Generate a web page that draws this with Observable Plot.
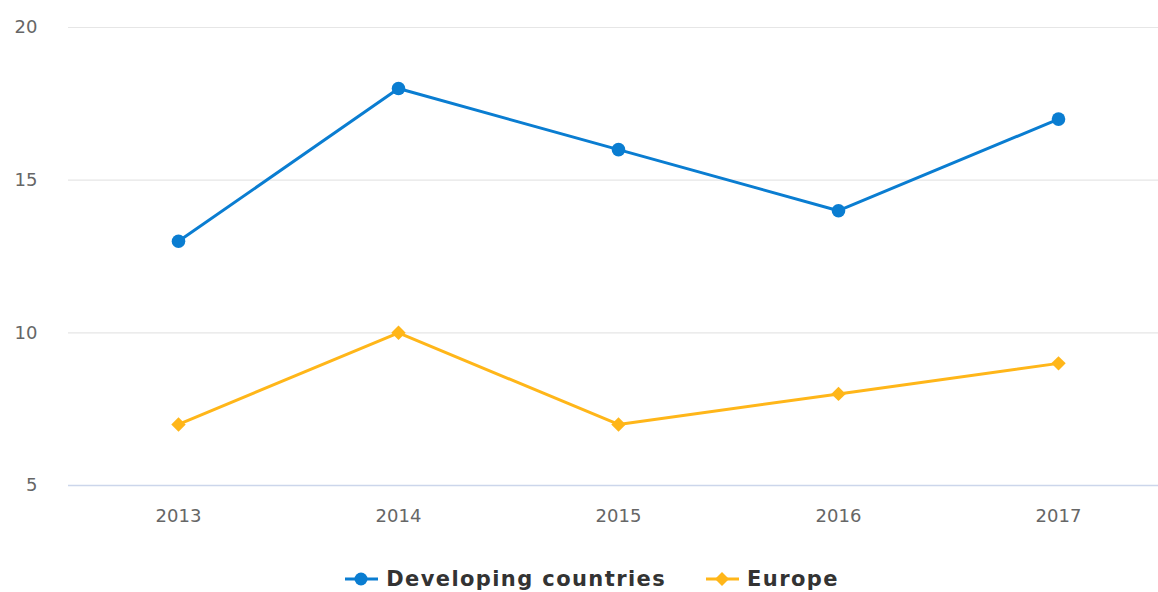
<!DOCTYPE html>
<html>
<head>
<meta charset="utf-8">
<script src="https://cdn.jsdelivr.net/npm/d3@7"></script>
<script src="https://cdn.jsdelivr.net/npm/@observablehq/plot@0.6"></script>
<style>
  html, body { margin: 0; padding: 0; background: #fff; }
  #chart { width: 1158px; height: 592px; overflow: hidden; font-family: "DejaVu Sans", sans-serif; }
  .legend { display: flex; justify-content: center; align-items: center; height: 47px; margin-top: 10px; font-family: "DejaVu Sans", sans-serif; font-weight: bold; font-size: 21px; color: #333; padding-left: 26px; }
  .legend .item { display: flex; align-items: center; margin: 0 20px; }
  .legend svg { margin-right: 8px; }
</style>
</head>
<body>
<div id="chart"></div>
<script>
const years = ["2013", "2014", "2015", "2016", "2017"];
const developing = [13, 18, 16, 14, 17];
const europe = [7, 10, 7, 8, 9];
const yTicks = [5, 10, 15, 20];
const seriesNames = ["Developing countries", "Europe"];
const seriesColors = ["#0a7dd1", "#ffb619"];

const data = [
  ...years.map((y, i) => ({year: y, value: developing[i], series: seriesNames[0]})),
  ...years.map((y, i) => ({year: y, value: europe[i], series: seriesNames[1]}))
];
const devData = data.filter(d => d.series === seriesNames[0]);
const eurData = data.filter(d => d.series === seriesNames[1]);

const chart = Plot.plot({
  width: 1158,
  height: 545,
  marginLeft: 68,
  marginRight: -10,
  marginTop: 27,
  marginBottom: 60,
  style: {fontFamily: "DejaVu Sans, sans-serif", fontSize: "18px", color: "#666", background: "#fff"},
  x: {type: "point", domain: years, padding: 0.5, label: null},
  y: {domain: [5, 20], label: null},
  marks: [
    Plot.ruleY(yTicks.filter(t => t > 5), {stroke: "#e6e6e6", strokeWidth: 1.2, strokeOpacity: 1}),
    Plot.ruleY([5], {stroke: "#ccd6eb", strokeWidth: 1.5, strokeOpacity: 1}),
    Plot.axisY({ticks: yTicks, tickSize: 0, tickPadding: 31, fill: "#666", style: {letterSpacing: "2px"}}),
    Plot.axisX({tickSize: 0, tickPadding: 24, fill: "#666", style: {letterSpacing: "2.5px"}}),
    Plot.line(devData, {x: "year", y: "value", stroke: seriesColors[0], strokeWidth: 3}),
    Plot.line(eurData, {x: "year", y: "value", stroke: seriesColors[1], strokeWidth: 3}),
    Plot.dot(devData, {x: "year", y: "value", fill: seriesColors[0], r: 6.8, symbol: "circle"}),
    Plot.dot(eurData, {x: "year", y: "value", fill: seriesColors[1], r: 6.5, symbol: "diamond2"})
  ]
});

const container = document.getElementById("chart");
container.appendChild(chart);

const legend = document.createElement("div");
legend.className = "legend";
seriesNames.forEach((name, i) => {
  const item = document.createElement("div");
  item.className = "item";
  const marker = i === 0
    ? `<circle cx="16" cy="10" r="6.5" fill="${seriesColors[i]}"/>`
    : `<path d="M16 3 L23 10 L16 17 L9 10 Z" fill="${seriesColors[i]}"/>`;
  item.innerHTML = `<svg width="33" height="20"><line x1="0" x2="33" y1="10" y2="10" stroke="${seriesColors[i]}" stroke-width="3"/>${marker}</svg><span style="letter-spacing:1.4px">${name}</span>`;
  legend.appendChild(item);
});
container.appendChild(legend);
</script>
</body>
</html>
